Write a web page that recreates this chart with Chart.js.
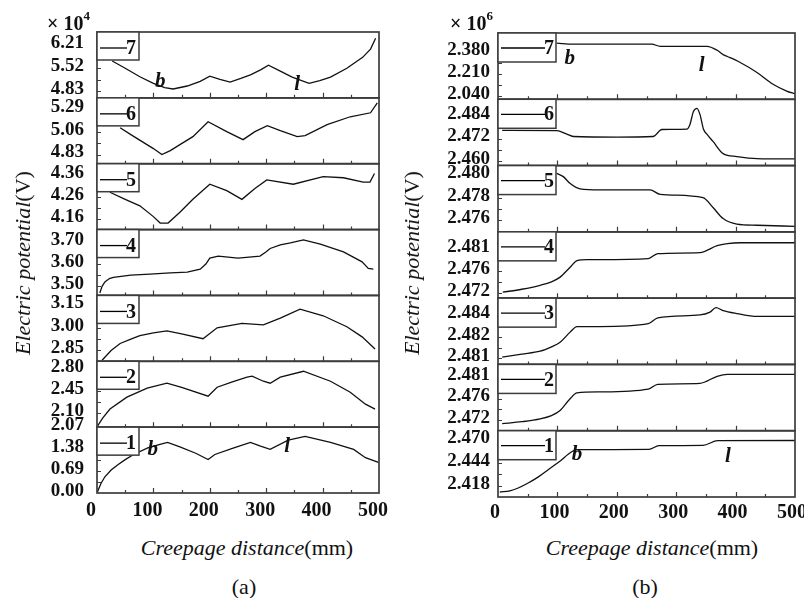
<!DOCTYPE html>
<html>
<head>
<meta charset="utf-8">
<script src="https://cdn.jsdelivr.net/npm/chart.js@4.4.0/dist/chart.umd.min.js"></script>
<style>
  html, body { margin:0; padding:0; background:#fff; }
  body { width:804px; height:598px; position:relative; overflow:hidden; font-family:'Liberation Serif', 'Times New Roman', serif; color:#111; }
  canvas { position:absolute; }
  .t { position:absolute; font-family:'Liberation Serif', 'Times New Roman', serif; font-size:22px; white-space:nowrap; color:#111; line-height:1; }
  .c { transform:translate(-50%,-50%); }
  .r { transform:translate(-50%,-50%) rotate(-90deg); }
  .m { font-weight:bold; font-size:20px; }
  .m sup { font-size:13px; position:relative; top:-2px; }
</style>
</head>
<body>
<canvas id="ca" width="400" height="530" style="left:0px;top:0px"></canvas>
<canvas id="cb" width="402" height="530" style="left:402px;top:0px"></canvas>

<div class="t m" style="left:47px;top:11px">× 10<sup>4</sup></div>
<div class="t m" style="left:450px;top:11px">× 10<sup>6</sup></div>
<div class="t r" style="left:23px;top:263px"><i>Electric potential</i>(V)</div>
<div class="t r" style="left:412px;top:263px"><i>Electric potential</i>(V)</div>
<div class="t c" style="left:247px;top:548px"><i>Creepage distance</i>(mm)</div>
<div class="t c" style="left:652px;top:548px"><i>Creepage distance</i>(mm)</div>
<div class="t c" style="left:244px;top:587px">(a)</div>
<div class="t c" style="left:645px;top:587px">(b)</div>

<script>
// ---------------- shared ----------------
const xTickValues = [0, 100, 200, 300, 400, 500];
const xTickLabels = ['0', '100', '200', '300', '400', '500'];
const seriesNames = ['1', '2', '3', '4', '5', '6', '7'];

// ---------------- panel (a): potential in units of 1e4 V ----------------
const a1X = [0, 7, 14, 25, 37, 50, 65, 90, 110, 125, 147, 175, 197, 209, 240, 272, 290, 307, 339, 369, 414, 455, 476, 499];
const a1Y = [0, 0.30, 0.51, 0.72, 0.89, 1.05, 1.21, 1.42, 1.52, 1.59, 1.45, 1.25, 1.05, 1.21, 1.40, 1.59, 1.47, 1.37, 1.66, 1.78, 1.59, 1.37, 1.11, 0.96];
const a2X = [0, 10, 23, 53, 89, 124, 150, 197, 213, 240, 266, 275, 295, 307, 325, 366, 414, 449, 476, 493];
const a2Y = [1.88, 2.02, 2.165, 2.355, 2.50, 2.577, 2.51, 2.37, 2.514, 2.60, 2.673, 2.689, 2.609, 2.577, 2.673, 2.768, 2.609, 2.434, 2.243, 2.164];
const a3X = [9, 25, 41, 60, 76, 100, 124, 150, 188, 213, 257, 295, 325, 360, 401, 443, 470, 493];
const a3Y = [2.785, 2.85, 2.896, 2.925, 2.948, 2.966, 2.98, 2.96, 2.928, 3.0, 3.03, 3.02, 3.065, 3.124, 3.08, 3.007, 2.94, 2.86];
const a4X = [5, 9, 14, 22, 29, 60, 94, 130, 160, 183, 193, 200, 215, 250, 289, 300, 307, 325, 343, 366, 396, 437, 470, 481, 490];
const a4Y = [3.47, 3.50, 3.52, 3.535, 3.54, 3.55, 3.555, 3.56, 3.564, 3.577, 3.60, 3.627, 3.636, 3.627, 3.636, 3.655, 3.67, 3.686, 3.695, 3.709, 3.69, 3.655, 3.61, 3.58, 3.577];
const a5X = [23, 50, 76, 100, 112, 126, 147, 170, 200, 230, 257, 280, 301, 348, 401, 437, 472, 484, 492];
const a5Y = [4.283, 4.25, 4.22, 4.17, 4.14, 4.14, 4.19, 4.25, 4.32, 4.29, 4.25, 4.30, 4.34, 4.32, 4.355, 4.35, 4.33, 4.33, 4.37];
const a6X = [41, 60, 80, 100, 115, 130, 147, 170, 197, 230, 259, 280, 302, 325, 355, 369, 408, 449, 485, 497];
const a6Y = [5.10, 5.03, 4.96, 4.89, 4.83, 4.87, 4.93, 5.01, 5.16, 5.06, 4.98, 5.06, 5.12, 5.07, 5.01, 5.02, 5.13, 5.21, 5.25, 5.35];
const a7X = [27, 50, 76, 100, 120, 135, 160, 183, 200, 218, 236, 255, 272, 290, 304, 325, 346, 376, 395, 414, 443, 471, 485, 494];
const a7Y = [5.74, 5.52, 5.26, 5.06, 4.93, 4.89, 4.98, 5.12, 5.28, 5.18, 5.10, 5.21, 5.32, 5.47, 5.61, 5.43, 5.25, 5.06, 5.14, 5.25, 5.52, 5.85, 6.10, 6.43];

const aTickVals = [
  [0, 0.69, 1.38, 2.07],
  [2.10, 2.45, 2.80],
  [2.85, 3.00, 3.15],
  [3.50, 3.60, 3.70],
  [4.16, 4.26, 4.36],
  [4.83, 5.06, 5.29],
  [4.83, 5.52, 6.21]
];
const aTickText = [
  ['0.00', '0.69', '1.38', '2.07'],
  ['2.10', '2.45', '2.80'],
  ['2.85', '3.00', '3.15'],
  ['3.50', '3.60', '3.70'],
  ['4.16', '4.26', '4.36'],
  ['4.83', '5.06', '5.29'],
  ['4.83', '5.52', '6.21']
];
const aRanges = [[0, 2.07], [1.877, 2.927], [2.778, 3.215], [3.459, 3.755], [4.11, 4.415], [4.738, 5.40], [4.62, 6.62]];

// ---------------- panel (b): potential in units of 1e6 V ----------------
const b1X = [3, 20, 34, 50, 68, 85, 103, 124, 133, 254, 271, 345, 370, 500];
const b1Y = [2.4112, 2.4125, 2.4157, 2.4210, 2.4282, 2.4365, 2.4451, 2.4564, 2.4587, 2.4590, 2.4632, 2.4635, 2.4689, 2.4690];
const b2X = [7, 40, 71, 90, 104, 121, 133, 172, 253, 269, 340, 369, 386, 500];
const b2Y = [2.4712, 2.4716, 2.4722, 2.4729, 2.4739, 2.4764, 2.4777, 2.4779, 2.4785, 2.4795, 2.4797, 2.4812, 2.4816, 2.4816];
const b3X = [7, 40, 71, 90, 104, 121, 133, 172, 253, 269, 340, 357, 367, 379, 402, 436, 500];
const b3Y = [2.4811, 2.4813, 2.4815, 2.4818, 2.4821, 2.4828, 2.4832, 2.4832, 2.4834, 2.4838, 2.4840, 2.4842, 2.4845, 2.4843, 2.4841, 2.4839, 2.4839];
const b4X = [8, 40, 71, 90, 104, 121, 133, 150, 172, 253, 269, 340, 369, 386, 407, 500];
const b4Y = [2.4722, 2.4728, 2.4736, 2.4743, 2.4752, 2.4772, 2.4786, 2.4788, 2.4788, 2.4790, 2.4800, 2.4802, 2.4816, 2.4820, 2.4822, 2.4822];
const b5X = [99, 110, 121, 138, 172, 256, 273, 345, 362, 379, 402, 436, 500];
const b5Y = [2.4802, 2.4799, 2.4793, 2.4788, 2.4787, 2.4787, 2.4783, 2.4780, 2.4771, 2.4761, 2.4756, 2.4755, 2.4754];
const b6X = [7, 99, 115, 127, 200, 261, 276, 290, 318, 323, 329, 335, 340, 346, 352, 362, 379, 402, 436, 500];
const b6Y = [2.4764, 2.4763, 2.4745, 2.4731, 2.4728, 2.4731, 2.4769, 2.4770, 2.4771, 2.4795, 2.4867, 2.4884, 2.4851, 2.4770, 2.4742, 2.4704, 2.4638, 2.4622, 2.4611, 2.4609];
const b7X = [99, 127, 200, 259, 273, 352, 369, 379, 386, 407, 436, 463, 486, 500];
const b7Y = [2.451, 2.443, 2.443, 2.443, 2.427, 2.427, 2.396, 2.362, 2.348, 2.303, 2.224, 2.133, 2.080, 2.058];

const bTickVals = [
  [2.418, 2.444, 2.470],
  [2.4720, 2.4765, 2.4810],
  [2.4810, 2.4825, 2.4840],
  [2.4720, 2.4765, 2.4810],
  [2.476, 2.478, 2.480],
  [2.460, 2.472, 2.484],
  [2.040, 2.210, 2.380]
];
const bTickText = [
  ['2.418', '2.444', '2.470'],
  ['2.472', '2.476', '2.481'],
  ['2.481', '2.482', '2.484'],
  ['2.472', '2.476', '2.481'],
  ['2.476', '2.478', '2.480'],
  ['2.460', '2.472', '2.484'],
  ['2.040', '2.210', '2.380']
];
const bRanges = [[2.4056, 2.480], [2.4697, 2.4837], [2.48059, 2.48516], [2.4710, 2.4844], [2.4749, 2.4809], [2.4573, 2.4933], [2.016, 2.53]];

// curve annotations: text, subplot number, x (mm), y (value)
const aNotes = [['b', 7, 112, 5.10], ['l', 7, 355, 5.01], ['b', 1, 99, 1.37], ['l', 1, 337, 1.46]];
const bNotes = [['b', 7, 121, 2.333], ['l', 7, 343, 2.277], ['b', 1, 133, 2.453], ['l', 1, 387, 2.4508]];

// ---------------- drawing ----------------
const FONT = "'Liberation Serif', 'Times New Roman', serif";
const FRAME = '#3c3c3c';

const decorPlugin = {
  id: 'decor',
  afterDatasetsDraw(chart) {
    const o = chart.options.plugins.decor;
    const ctx = chart.ctx;
    const { left, right } = chart.chartArea;
    const xs = chart.scales.x;
    ctx.save();
    // inward tick marks
    ctx.strokeStyle = FRAME;
    ctx.lineWidth = 1.2;
    for (let k = 1; k <= 7; k++) {
      const s = chart.scales['y' + k];
      const maj = s.ticks.map(t => t.value);
      const marks = maj.slice();
      for (let i = 0; i < maj.length - 1; i++) marks.push((maj[i] + maj[i + 1]) / 2);
      ctx.beginPath();
      marks.forEach(v => {
        const py = Math.round(s.getPixelForValue(v)) + 0.5;
        if (py > s.top + 1 && py < s.bottom - 1) { ctx.moveTo(left, py); ctx.lineTo(left + 4, py); }
      });
      for (let v = 50; v < 500; v += 50) {
        const px = Math.round(xs.getPixelForValue(v)) + 0.5;
        const len = (v % 100 === 0) ? 5 : 3;
        ctx.moveTo(px, s.bottom); ctx.lineTo(px, s.bottom - len);
      }
      ctx.stroke();
    }
    // frames
    ctx.lineWidth = 1.7;
    ctx.strokeStyle = FRAME;
    for (let k = 1; k <= 7; k++) {
      const s = chart.scales['y' + k];
      ctx.strokeRect(left, s.top, right - left, s.bottom - s.top);
    }
    // legend boxes
    for (let k = 1; k <= 7; k++) {
      const s = chart.scales['y' + k];
      const top = s.top;
      ctx.fillStyle = '#fff';
      ctx.fillRect(left, top, o.boxW, o.boxH);
      ctx.lineWidth = 1.5;
      ctx.strokeStyle = FRAME;
      ctx.strokeRect(left, top, o.boxW, o.boxH);
      const ly = top + o.lineY;
      ctx.strokeStyle = '#000';
      ctx.lineWidth = 1.3;
      ctx.beginPath();
      ctx.moveTo(left + 3, ly);
      ctx.lineTo(left + o.lineEnd, ly);
      ctx.stroke();
      ctx.fillStyle = '#111';
      ctx.font = 'bold 20px ' + FONT;
      ctx.textAlign = 'left';
      ctx.textBaseline = 'middle';
      ctx.fillText(seriesNames[k - 1], left + o.lineEnd - 1, ly + 1);
    }
    // annotations b / l
    ctx.font = 'italic bold 21px ' + FONT;
    ctx.textAlign = 'center';
    ctx.textBaseline = 'middle';
    ctx.fillStyle = '#111';
    o.notes.forEach(n => {
      const s = chart.scales['y' + n[1]];
      ctx.fillText(n[0], xs.getPixelForValue(n[2]), s.getPixelForValue(n[3]));
    });
    ctx.restore();
  }
};

function buildPanel(canvasId, X, Y, ranges, tickVals, tickText, notes, L) {
  const scales = {
    x: {
      type: 'linear', position: 'bottom', min: 0, max: 500,
      afterBuildTicks: s => { s.ticks = xTickValues.map(v => ({ value: v })); },
      afterFit: s => { s.height = L.xH; s.paddingLeft = 0; s.paddingRight = 0; },
      ticks: {
        callback: (v, i) => xTickLabels[i],
        font: { family: FONT, size: 20, weight: 'bold' }, color: '#111',
        padding: L.xPad, labelOffset: L.xOff, maxRotation: 0, autoSkip: false
      },
      grid: { display: false, drawTicks: false },
      border: { display: false }
    }
  };
  for (let k = 0; k < 7; k++) {
    scales['y' + (k + 1)] = {
      type: 'linear', position: 'left', stack: 'panel', stackWeight: 1, weight: k + 1,
      min: ranges[k][0], max: ranges[k][1],
      afterBuildTicks: s => { s.ticks = tickVals[k].map(v => ({ value: v })); },
      afterFit: s => { s.width = L.yW; s.paddingTop = 0; s.paddingBottom = 0; },
      ticks: {
        callback: (v, i) => tickText[k][i],
        font: { family: FONT, size: 19, weight: 'bold' }, color: '#111',
        padding: L.yPad, labelOffset: -2, autoSkip: false
      },
      grid: { display: false, drawTicks: false },
      border: { display: false }
    };
  }
  const datasets = X.map((xs, k) => ({
    label: seriesNames[k],
    data: xs.map((x, i) => ({ x: x, y: Y[k][i] })),
    yAxisID: 'y' + (k + 1),
    borderColor: '#111',
    borderWidth: 1.3,
    pointRadius: 0,
    fill: false,
    tension: L.tension,
    cubicInterpolationMode: L.mode
  }));
  return new Chart(document.getElementById(canvasId), {
    type: 'line',
    data: { datasets },
    options: {
      responsive: false,
      animation: false,
      events: [],
      layout: { padding: { left: 0, top: L.top, right: L.right, bottom: 0 } },
      scales,
      plugins: {
        legend: { display: false },
        tooltip: { enabled: false },
        decor: { boxW: L.boxW, boxH: L.boxH, lineY: L.lineY, lineEnd: L.lineEnd, notes }
      }
    },
    plugins: [decorPlugin]
  });
}

buildPanel('ca',
  [a1X, a2X, a3X, a4X, a5X, a6X, a7X],
  [a1Y, a2Y, a3Y, a4Y, a5Y, a6Y, a7Y],
  aRanges, aTickVals, aTickText, aNotes,
  { top: 32, right: 21, xH: 37, yW: 97, yPad: 13, xPad: 6, xOff: -6,
    boxW: 42, boxH: 28, lineY: 16, lineEnd: 30, tension: 0, mode: 'default' });

buildPanel('cb',
  [b1X, b2X, b3X, b4X, b5X, b6X, b7X],
  [b1Y, b2Y, b3Y, b4Y, b5Y, b6Y, b7Y],
  bRanges, bTickVals, bTickText, bNotes,
  { top: 33, right: 9, xH: 33, yW: 96, yPad: 8, xPad: 4, xOff: -3,
    boxW: 58, boxH: 29, lineY: 15, lineEnd: 47, tension: 0.4, mode: 'monotone' });
</script>
</body>
</html>
